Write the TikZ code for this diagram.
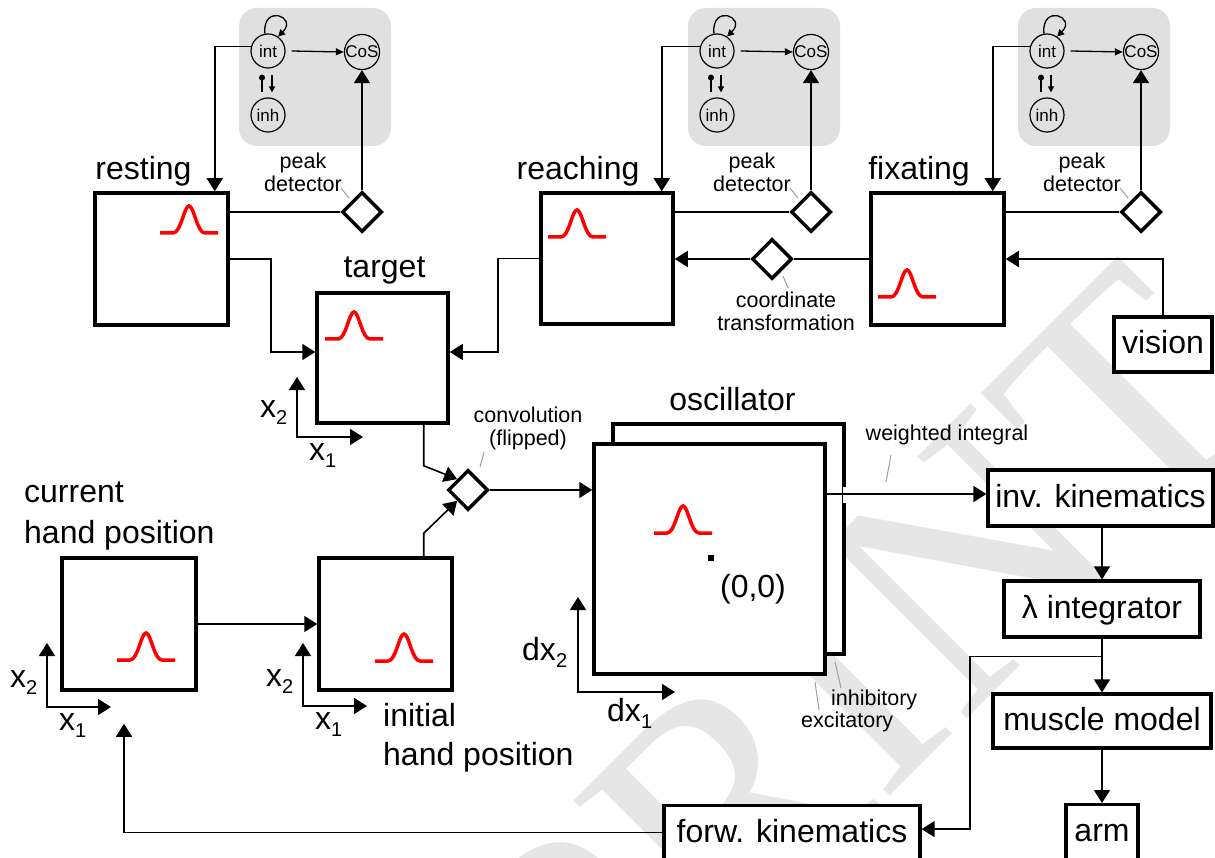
\documentclass[tikz,border=0pt]{standalone}
\usepackage{fontspec}
\setmainfont{Liberation Sans}
\newfontfamily\wmfont{Liberation Serif}
\usetikzlibrary{arrows.meta,shapes.geometric,calc}
\definecolor{panelgray}{RGB}{224,224,224}
\definecolor{wmgray}{RGB}{230,230,230}
\newcommand\lowsub[1]{\raisebox{-7pt}{\fontsize{20}{20}\selectfont #1}}
\begin{document}
\begin{tikzpicture}[x=1pt,y=-1pt,
  field/.style={draw,line width=3.5pt,fill=white,inner sep=0pt,minimum width=133pt,minimum height=132pt},
  blk/.style={draw,line width=3.2pt,fill=white,inner sep=0pt,minimum height=56pt,text height=18pt,text depth=0pt,font=\fontsize{32}{36}\selectfont},
  big/.style={inner sep=0pt,font=\fontsize{32}{40}\selectfont},
  small/.style={inner sep=0pt,align=center,font=\fontsize{21.5}{23}\selectfont},
  panel/.style={fill=panelgray,rounded corners=18pt,minimum width=152pt,minimum height=138pt,inner sep=0pt},
  unit/.style={circle,draw,line width=1.2pt,minimum size=34pt,inner sep=0pt,font=\fontsize{17}{17}\selectfont},
  pdia/.style={diamond,draw,line width=3.5pt,fill=white,minimum width=40pt,minimum height=40pt,inner sep=0pt},
  conn/.style={line width=1.6pt,-{Triangle[length=13pt,width=16pt]}},
  axis/.style={line width=1.6pt,{Triangle[length=13pt,width=16pt]}-{Triangle[length=13pt,width=16pt]}},
  plain/.style={line width=1.6pt},
  lead/.style={draw=gray!75,line width=1pt},
  gauss/.pic={\draw[red,line width=3.5pt] (0,0) -- (13,0) .. controls (21,0) and (24,-27) .. (29,-27) .. controls (34,-27) and (37,0) .. (45,0) -- (58,0);}
]
\useasboundingbox (0,0) rectangle (1215,858);
\fill[white] (0,0) rectangle (1215,858);
% watermark
\node[rotate=45,anchor=base west,text=wmgray,inner sep=0pt,font=\wmfont\fontsize{336}{336}\selectfont] (wm) at (155,1531) {PREPRINT};

% fields
\node[field] (resting) at (161.5,259) {};
\node[field,minimum width=131pt,minimum height=130pt] (target) at (382.5,358) {};
\node[field,minimum width=132pt,minimum height=131pt] (reaching) at (607,258.5) {};
\node[field] (fixating) at (937.5,259) {};
\node[field,minimum width=134pt] (current) at (129,624) {};
\node[field] (initial) at (385.5,624) {};
\node[field,minimum width=231pt,minimum height=230pt] (oscb) at (728.5,539) {};
\draw[white,line width=6pt] ([yshift=52pt]oscb.east) -- ([yshift=36pt]oscb.east);
\node[field,minimum width=231pt,minimum height=230pt] (oscf) at (709.5,559) {};

% gaussians
\pic at (160,233) {gauss};
\pic at (325,339) {gauss};
\pic at (548,237) {gauss};
\pic at (878,297) {gauss};
\pic at (117,660) {gauss};
\pic at (375,661) {gauss};
\pic at (654,533) {gauss};
\fill (708,555) rectangle (714,561);
\node[big,anchor=base] (origin) at (753,597) {(0,0)};

% field labels
\node[big,anchor=base] (lres) at (143.5,180) {resting};
\node[big,anchor=base] (ltar) at (384.5,278) {target};
\node[big,anchor=base] (lrea) at (578,180) {reaching};
\node[big,anchor=base] (lfix) at (919,180) {fixating};
\node[big,anchor=base] (losc) at (732.5,410) {oscillator};
\node[big,anchor=base west] (lcur1) at (24,502) {current};
\node[big,anchor=base west] (lcur2) at (24,543) {hand position};
\node[big,anchor=base west] (lini1) at (383,726) {initial};
\node[big,anchor=base west] (lini2) at (383,765) {hand position};

% panels with units
\foreach \i/\px/\fld/\dx in {1/315/resting/15pt,2/764/reaching/13pt,3/1094/fixating/13pt}{
  \node[panel] (p\i) at (\px,77) {};
  \node[unit] (int\i) at (\px-47,51) {int};
  \node[unit] (cos\i) at (\px+47,52) {CoS};
  \node[unit] (inh\i) at (\px-47,115) {inh};
  \node[pdia] (pd\i) at (\px+47,212) {};
  \draw[line width=1.3pt,-{Triangle[length=8pt,width=7pt]}] ([xshift=6pt]int\i.east) -- (cos\i.west);
  \draw[line width=1.3pt,-{Triangle[length=7pt,width=7pt]}] (int\i.100) .. controls +(-3,-30) and +(20,-20) .. (int\i.55);
  \draw[line width=1.3pt,{Circle[length=6pt]}-] ([xshift=-6pt,yshift=-6pt]int\i.south) -- ([xshift=-6pt,yshift=5pt]inh\i.north);
  \draw[line width=1.3pt,-{Triangle[length=6pt,width=6pt]}] ([xshift=4pt,yshift=-6pt]int\i.south) -- ([xshift=4pt,yshift=5pt]inh\i.north);
  \draw[conn] (int\i.165) -| ([xshift=-\dx]\fld.north east);
  \draw[conn] (pd\i.north) -- (cos\i.south);
  \draw[plain] (pd\i.west -| \fld.east) -- (pd\i.west);
  \draw[lead] ([shift={(-21,-24)}]pd\i.center) -- ([shift={(-13,-14)}]pd\i.center);
  \node[small] (lpd\i) at (\px-12,172) {peak\\detector};
}

% coordinate transformation
\node[pdia] (ct) at (772,259) {};
\draw[plain] (fixating.west) -- (ct.east);
\draw[conn] (ct.west) -- (ct.west -| reaching.east);
\draw[lead] ([shift={(11,17)}]ct.center) -- ([shift={(16,29)}]ct.center);
\node[small] (lct) at (786,311) {coordinate\\transformation};

% vision
\node[blk,minimum width=98pt,minimum height=55pt] (vision) at (1163,344.5) {vision};
\draw[conn] (vision.north) |- (fixating.east);

% to target
\draw[conn] (resting.east) -- ++(41,0) |- ([yshift=6pt]target.west);
\draw[conn] (reaching.west) -- ++(-41,0) |- ([yshift=6pt]target.east);

% convolution
\node[pdia] (conv) at (468,490) {};
\draw[conn] ([xshift=-26pt]target.south east) -- ++(0,41) -- (conv.north west);
\draw[conn] ([xshift=-30pt]initial.north east) -- ++(0,-23) -- (conv.south west);
\draw[conn] (conv.east) -- (conv.east -| oscf.west);
\draw[lead] ([shift={(16,-38)}]conv.center) -- ([shift={(12,-23)}]conv.center);
\node[small] (lconv) at (528,428) {convolution\\(flipped)};

% hand positions
\draw[conn] (current.east) -- (initial.west);

% axes
\draw[axis] (47,643) |- (111,707);
\node[big,anchor=base west] (ax1) at (10,687) {x\lowsub{2}};
\node[big,anchor=base west] (ax2) at (59,730) {x\lowsub{1}};
\draw[axis] (303,643) |- (367,706);
\node[big,anchor=base west] (ax3) at (266,686) {x\lowsub{2}};
\node[big,anchor=base west] (ax4) at (315,729) {x\lowsub{1}};
\draw[axis] (297,377) |- (363,437);
\node[big,anchor=base west] (ax5) at (260,417) {x\lowsub{2}};
\node[big,anchor=base west] (ax6) at (309,460) {x\lowsub{1}};
\draw[axis] (578,597) |- (675,692);
\node[big,anchor=base west] (ax7) at (522,660) {dx\lowsub{2}};
\node[big,anchor=base west] (ax8) at (607,721) {dx\lowsub{1}};

% right column
\node[blk,minimum width=225pt] (inv) at (1100.5,498) {inv. kinematics};
\node[blk,minimum width=196pt] (lam) at (1102,609) {λ integrator};
\node[blk,minimum width=218pt,minimum height=54pt] (mus) at (1102,721) {muscle model};
\node[blk,anchor=north,minimum width=72pt,minimum height=0pt,text height=37pt,text depth=27pt] (arm) at (1102,803) {arm};
\node[blk,anchor=north,minimum width=256pt,minimum height=0pt,text height=37pt,text depth=27pt] (forw) at (792,804) {forw. kinematics};

\draw[conn] ([yshift=65pt]oscf.east) -- ([yshift=65pt]oscf.east -| inv.west);
\node[small,anchor=base] (lwi) at (947,440) {weighted integral};
\draw[lead] (891,455) -- (886,482);
\node[small,anchor=base west] (linh) at (831,705) {inhibitory};
\node[small,anchor=base west] (lexc) at (801,727) {excitatory};
\draw[lead] (835,662) -- (841,688);
\draw[lead] (815,682) -- (819,710);

\draw[conn] (inv.south -| lam.north) -- (lam.north);
\draw[conn] (lam.south) -- (mus.north);
\draw[conn] (mus.south) -- (arm.north);
\coordinate (br) at ($(lam.south)!0.33!(mus.north)$);
\draw[conn] (br) -- ++(-132,0) |- ([yshift=8.5pt]forw.east);
\draw[conn] ([yshift=5pt]forw.west) -| ([xshift=-5pt,yshift=-32pt]current.south);
\end{tikzpicture}
\end{document}
